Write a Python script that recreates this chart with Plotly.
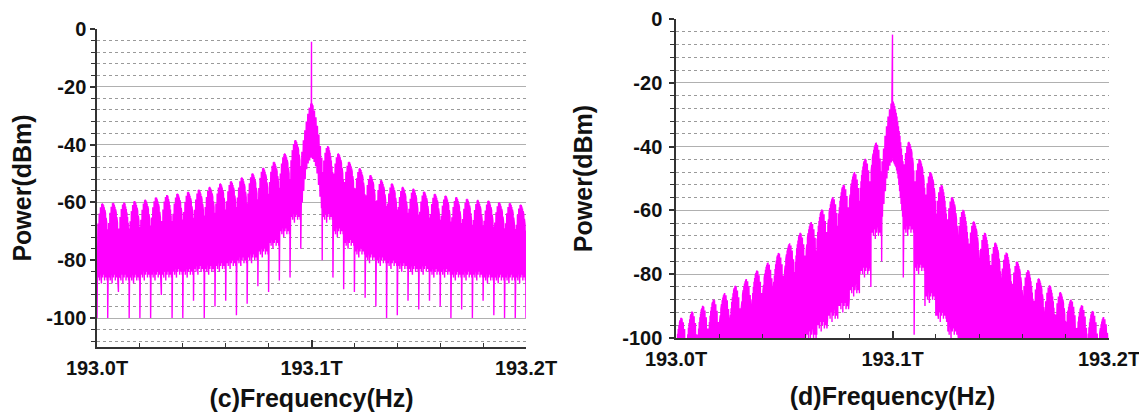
import plotly.graph_objects as go

# ---------------- data ----------------
CENTER_FREQ = 193.1          # THz, carrier
LOBE_SPACING = 0.005         # THz between comb-group boundaries

# (c) panel
c_spike = -4.4
c_center_peak = -25.5
c_left_peaks = [-38.4, -43.0, -45.9, -48.0, -49.9, -51.3, -52.6, -53.4, -54.6, -55.5,
                -56.3, -56.9, -57.4, -58.2, -59.0, -59.5, -60.0, -60.1, -60.3]
c_right_peaks = [-40.5, -43.0, -45.9, -48.1, -50.5, -52.2, -53.4, -54.6, -55.2, -56.2,
                 -57.0, -57.6, -58.1, -58.7, -59.1, -59.3, -59.9, -60.2, -60.7]
c_left_floors = [-62, -67, -71, -74, -76, -77, -78, -79, -80, -80,
                 -81, -81, -82, -82, -82, -83, -83, -83, -83]
c_right_floors = [-62, -67, -71, -74, -76, -77, -78, -79, -80, -80,
                  -81, -81, -82, -82, -82, -83, -83, -83, -83]
c_left_notches = [-76, -86, -87, -91, -89, -95, -99, -94, -96, -100,
                  -94, -100, -100, -92, -100, -100, -100, -91, -100, -100]
c_right_notches = [-80, -86, -90, -91, -93, -96, -100, -99, -94, -97,
                   -94, -96, -100, -97, -100, -94, -99, -100, -100, -100]

# (d) panel
d_spike = -4.9
d_center_peak = -25.6
d_left_peaks = [-38.7, -43.9, -48.0, -52.0, -55.8, -59.8, -63.6, -67.1, -70.3, -73.4,
                -76.3, -78.9, -81.5, -83.7, -85.9, -88.0, -90.0, -91.8, -93.7]
d_right_peaks = [-38.5, -43.9, -48.0, -52.0, -55.8, -59.8, -63.4, -67.0, -70.1, -73.2,
                 -76.0, -78.7, -81.3, -83.5, -85.6, -87.9, -89.8, -91.6, -93.4]
d_left_floors = [-64, -76, -82, -87, -90, -93, -96, -99, -102, -102,
                 -102, -102, -102, -102, -102, -102, -102, -102, -102]
d_right_floors = [-63, -75, -84, -90, -95, -99, -102, -102, -102, -102,
                  -102, -102, -102, -102, -102, -102, -102, -102, -102]
d_left_notches = [-76, -84, -80, -88, -90, -94, -99, -98, -100, -100,
                  -102, -102, -102, -102, -102, -102, -102, -102, -102, -102]
d_right_notches = [-81, -99, -90, -93, -95, -97, -100, -100, -102, -102,
                   -102, -102, -102, -102, -102, -102, -102, -102, -102, -102]

# shape of one comb group (dB relative to its peak)
LOBE_PROFILE = [-9, -7, -5, -3.5, -2.3, -1.4, -0.7, -0.2, 0, -0.2, -0.7, -1.4,
                -2.3, -3.5, -5, -7, -9]
CENTER_PROFILE = [-19, -17, -15, -13, -11, -9.5, -8, -6.5, -5, -3.8, -2.7, -1.7,
                  -0.9, -0.3, 0, -0.3, -0.9, -1.7, -2.7, -3.8, -5, -6.5, -8, -9.5,
                  -11, -13, -15, -17, -19]
# lower edge of the central group (dBm): white wedge under the carrier
CENTER_FLOOR = [-62, -60, -58, -56, -54, -52, -50, -48.5, -47.5, -46.5, -46, -45.5,
                -45, -44.5, -44.5, -45, -45.5, -46, -46.5, -47.5, -48.5, -50, -52,
                -54, -56, -58, -60, -62]
FLOOR_RIPPLE = [0, -3, -1, -4, -2, 0, -5, -1, -3, 0, -2, -4]

X_TICKS = [193.0, 193.1, 193.2]
X_TICK_TEXT = ["193.0T", "193.1T", "193.2T"]
Y_TICKS = [0, -20, -40, -60, -80, -100]
Y_TICK_TEXT = ["0", "-20", "-40", "-60", "-80", "-100"]


def group(xs, ys, x0, x1, profile, peak, floors, spike=None):
    n = len(profile)
    w = x1 - x0
    for j, off in enumerate(profile):
        xs.append(x0 + (j + 0.5) / n * w)
        ys.append(peak + off)
        if spike is not None and j == n // 2:
            xs.append(x0 + (j + 0.5) / n * w)
            ys.append(spike)
            xs.append(x0 + (j + 0.5) / n * w)
            ys.append(peak + off)
        if j < n - 1:
            xs.append(x0 + (j + 1.0) / n * w)
            ys.append(floors[j])


def lobe_floors(floor):
    return [floor + FLOOR_RIPPLE[j % len(FLOOR_RIPPLE)] for j in range(len(LOBE_PROFILE) - 1)]


def build(left_peaks, right_peaks, left_floors, right_floors, left_notches, right_notches,
          center_peak, spike):
    xs, ys = [], []
    nl = len(left_peaks)
    xs.append(CENTER_FREQ - (nl + 1) * LOBE_SPACING)
    ys.append(left_notches[nl])
    for k in range(nl, 0, -1):
        x0 = CENTER_FREQ - (k + 1) * LOBE_SPACING
        x1 = CENTER_FREQ - k * LOBE_SPACING
        group(xs, ys, x0, x1, LOBE_PROFILE, left_peaks[k - 1], lobe_floors(left_floors[k - 1]))
        xs.append(x1)
        ys.append(left_notches[k - 1])
    group(xs, ys, CENTER_FREQ - LOBE_SPACING, CENTER_FREQ + LOBE_SPACING,
          CENTER_PROFILE, center_peak, CENTER_FLOOR, spike=spike)
    xs.append(CENTER_FREQ + LOBE_SPACING)
    ys.append(right_notches[0])
    nr = len(right_peaks)
    for k in range(1, nr + 1):
        x0 = CENTER_FREQ + k * LOBE_SPACING
        x1 = CENTER_FREQ + (k + 1) * LOBE_SPACING
        group(xs, ys, x0, x1, LOBE_PROFILE, right_peaks[k - 1], lobe_floors(right_floors[k - 1]))
        xs.append(x1)
        ys.append(right_notches[k])
    return xs, ys


cx, cy = build(c_left_peaks, c_right_peaks, c_left_floors, c_right_floors,
               c_left_notches, c_right_notches, c_center_peak, c_spike)
dx, dy = build(d_left_peaks, d_right_peaks, d_left_floors, d_right_floors,
               d_left_notches, d_right_notches, d_center_peak, d_spike)

# page has an 8 px body margin: figure is drawn 8 px right/down of the window corner
W, H = 1139, 404
FONT = "Liberation Sans, Arial, sans-serif"
MAG = "#ff00ff"
AX = "#333333"

fig = go.Figure()
fig.add_trace(go.Scatter(x=cx, y=cy, mode="lines", line=dict(color=MAG, width=1.4),
                         xaxis="x", yaxis="y", showlegend=False, hoverinfo="skip"))
fig.add_trace(go.Scatter(x=dx, y=dy, mode="lines", line=dict(color=MAG, width=1.4),
                         xaxis="x2", yaxis="y2", showlegend=False, hoverinfo="skip"))


def xaxis(domain, anchor, title, standoff):
    return dict(
        domain=domain, anchor=anchor, range=[193.0, 193.2], automargin=False,
        tickvals=X_TICKS, ticktext=X_TICK_TEXT, ticklabeloverflow="allow",
        showgrid=False, zeroline=False, showline=True, linecolor=AX, linewidth=1.5,
        ticks="inside", ticklen=7, tickwidth=1.5, tickcolor=AX,
        minor=dict(dtick=0.02, tick0=193.0, ticks="inside", ticklen=4, tickwidth=1.2,
                   tickcolor=AX, showgrid=False),
        tickfont=dict(family=FONT, size=20, color="#111", weight="bold"),
        ticklabelstandoff=2,
        title=dict(text=title, font=dict(family=FONT, size=25, color="#111", weight="bold"),
                   standoff=standoff),
    )


def yaxis(domain, anchor, rng, label_standoff, title_standoff):
    return dict(
        domain=domain, anchor=anchor, range=rng, automargin=False,
        tickvals=Y_TICKS, ticktext=Y_TICK_TEXT, ticklabeloverflow="allow",
        showgrid=True, gridcolor="#b0b0b0", gridwidth=1.2,
        zeroline=False, showline=True, linecolor=AX, linewidth=1.5,
        ticks="outside", ticklen=5, tickwidth=1.5, tickcolor=AX,
        minor=dict(dtick=4, tick0=0, ticks="outside", ticklen=4, tickwidth=1.2,
                   tickcolor=AX, showgrid=True, gridcolor="#9a9a9a", gridwidth=1,
                   griddash="dot"),
        tickfont=dict(family=FONT, size=20, color="#111", weight="bold"),
        ticklabelstandoff=label_standoff,
        title=dict(text="Power(dBm)", font=dict(family=FONT, size=25, color="#111", weight="bold"),
                   standoff=title_standoff),
    )


fig.update_layout(
    width=W, height=H, margin=dict(l=0, r=0, t=0, b=0),
    paper_bgcolor="white", plot_bgcolor="white",
    xaxis=xaxis([89 / W, 518 / W], "y", "(c)Frequency(Hz)", 15),
    yaxis=yaxis([1 - 339 / H, 1 - 21 / H], "x", [-110, 0], 0, 10),
    xaxis2=xaxis([668 / W, 1101 / W], "y2", "(d)Frequency(Hz)", 19),
    yaxis2=yaxis([1 - 330 / H, 1 - 11 / H], "x2", [-100, 0], 3, 22),
)

fig.write_html("out.html")
